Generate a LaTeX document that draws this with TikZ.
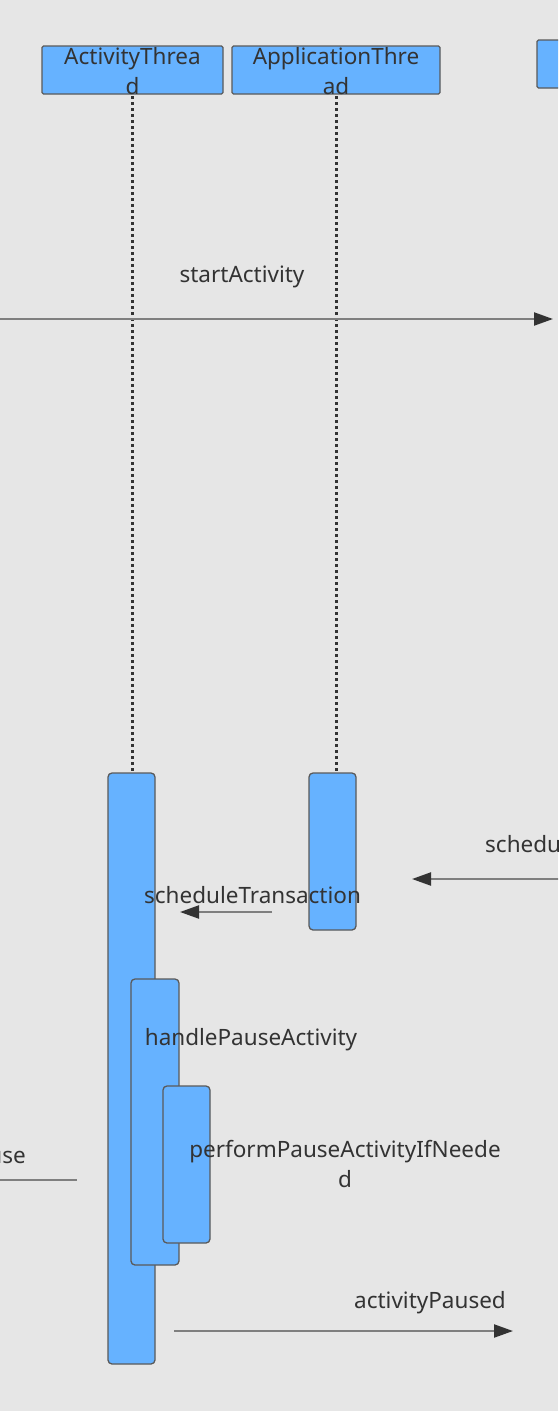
\documentclass[tikz,border=0pt]{standalone}
\usepackage{fontspec}
\setmainfont{Noto Sans}
\usetikzlibrary{arrows.meta}
\definecolor{bg}{HTML}{E6E6E6}
\definecolor{blu}{HTML}{66B2FF}
\definecolor{edge}{HTML}{5A5A5A}
\definecolor{txt}{HTML}{333333}
\definecolor{ln}{HTML}{7F7F7F}
\begin{document}
\begin{tikzpicture}[x=1pt,y=-1pt,
  hdr/.style={draw=edge, fill=blu, line width=1.2pt, rounded corners=1.5pt, inner sep=0pt},
  actbox/.style={draw=edge, fill=blu, line width=1.3pt, rounded corners=4pt, inner sep=0pt, minimum width=47pt},
  lbl/.style={text=txt, inner sep=0pt, font=\fontsize{22.5}{30}\selectfont},
  life/.style={draw=txt, line width=3pt, dash pattern=on 3pt off 3pt},
  msg/.style={draw=ln, line width=2.2pt, -{Triangle[length=19pt,width=13pt,color=txt]}},
  plain/.style={draw=ln, line width=2.2pt}]
\fill[bg] (0,0) rectangle (558,1411);
\useasboundingbox (0,0) rectangle (558,1411);
\clip (0,0) rectangle (558,1411);
% header boxes
\node[hdr, minimum width=181pt, minimum height=48pt] (at) at (132.5,70) {};
\node[hdr, minimum width=208pt, minimum height=48pt] (apt) at (336,70) {};
\node[hdr, minimum width=60pt, minimum height=48pt] (third) at (567,64) {};
\node[lbl, align=center] (atl) at (132.5,71) {ActivityThrea\\d};
\node[lbl, align=center] (aptl) at (336,71) {ApplicationThre\\ad};
% activations
\node[actbox, minimum height=591pt] (a1) at (131.5,1068.5) {};
\node[actbox, minimum height=157pt] (a2) at (332.5,851.5) {};
\node[actbox, minimum width=48pt, minimum height=286pt] (a3) at (155,1122) {};
\node[actbox, minimum height=157pt] (a4) at (186.5,1164.5) {};
% lifelines
\draw[life] (132,96) -- (132,772);
\draw[life] (336,96) -- (336,772);
% messages
\coordinate (s1) at (0,319); \coordinate (e1) at (553,319);
\draw[msg] (s1) -- (e1);
\node[lbl] (l1) at (242,277) {startActivity};
\coordinate (s2) at (570,879); \coordinate (e2) at (412,879);
\draw[msg] (s2) -- (e2);
\node[lbl, anchor=west] (l2) at (485,844) {scheduleTransaction};
\coordinate (s3) at (272,912); \coordinate (e3) at (180,912);
\draw[msg] (s3) -- (e3);
\node[lbl] (l3) at (252.5,895) {scheduleTransaction};
\node[lbl] (l4) at (251,1040) {handlePauseActivity};
\node[lbl, align=center] (l5) at (345,1164) {performPauseActivityIfNeede\\d};
\coordinate (s6) at (0,1180); \coordinate (e6) at (77,1180);
\draw[plain] (s6) -- (e6);
\node[lbl, anchor=east] (l6) at (26,1157) {use};
\coordinate (s7) at (174,1331); \coordinate (e7) at (513,1331);
\draw[msg] (s7) -- (e7);
\node[lbl] (l7) at (430,1303) {activityPaused};
\end{tikzpicture}
\end{document}
